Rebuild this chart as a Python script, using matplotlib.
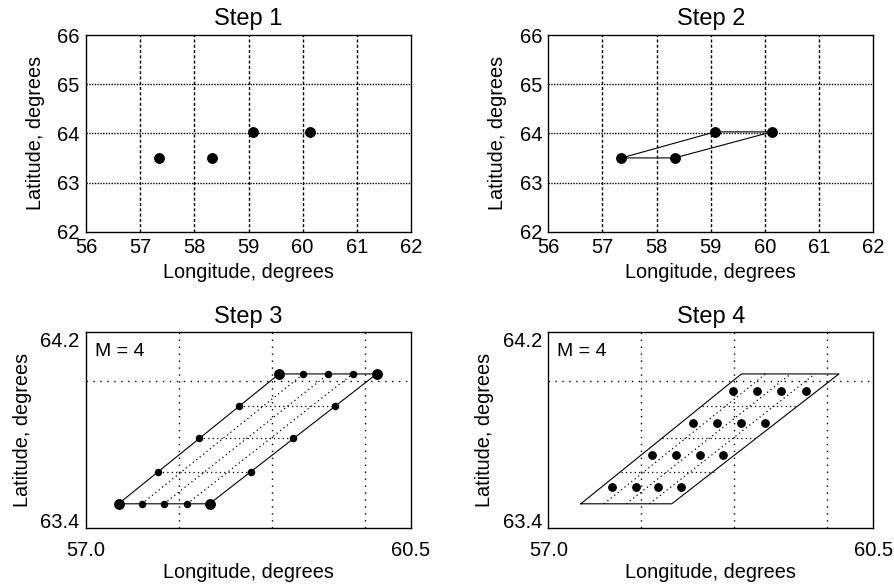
import matplotlib
matplotlib.use("Agg")
import matplotlib.pyplot as plt

plt.rcParams['font.family'] = ['Liberation Sans', 'DejaVu Sans']

# ---- data ----
lon_pts = [57.35, 58.33, 59.08, 60.13]
lat_pts = [63.50, 63.50, 64.03, 64.03]
poly_order = [0, 1, 3, 2, 0]

# Step 3 edge subdivision points (M = 4)
bottom_lon = [57.35, 57.60, 57.84, 58.09, 58.33]
top_lon = [59.08, 59.34, 59.61, 59.87, 60.13]
left_lon = [57.35, 57.78, 58.22, 58.65, 59.08]
right_lon = [58.33, 58.78, 59.23, 59.68, 60.13]
edge_lat = [63.50, 63.63, 63.77, 63.90, 64.03]

# Step 4 cell centres
center_lat = [63.57, 63.70, 63.83, 63.96]
center_lon = [
    [57.69, 57.94, 58.18, 58.43],
    [58.12, 58.38, 58.63, 58.88],
    [58.56, 58.82, 59.07, 59.33],
    [58.99, 59.25, 59.51, 59.77],
]

top_xticks = [56, 57, 58, 59, 60, 61, 62]
top_yticks = [62, 63, 64, 65, 66]
bot_xticks = [57.0, 60.5]
bot_yticks = [63.4, 64.2]
bot_grid_lon = [58, 59, 60]
bot_grid_lat = [64.0]
titles = ["Step 1", "Step 2", "Step 3", "Step 4"]

W, H = 895, 586
fig = plt.figure(figsize=(W / 100, H / 100), dpi=100)

def ax_at(l, t, r, b):
    return fig.add_axes([l / W, 1 - b / H, (r - l) / W, (b - t) / H])

ax1 = ax_at(86, 35, 411, 231.7)
ax2 = ax_at(548.3, 35, 873.3, 231.7)
ax3 = ax_at(86, 332.3, 411, 528.3)
ax4 = ax_at(548.3, 332.3, 873.3, 528.3)

TICK_FS = 14.5
LAB_FS = 14.3
TITLE_FS = 17

for ax, title in zip([ax1, ax2, ax3, ax4], titles):
    ax.set_title(title, fontsize=TITLE_FS, pad=7)
    ax.tick_params(length=0, labelsize=TICK_FS, pad=4.5)
    for s in ax.spines.values():
        s.set_linewidth(1.0)

# top row
for ax in (ax1, ax2):
    ax.set_xlabel("Longitude, degrees", fontsize=LAB_FS, labelpad=4)
    ax.set_ylabel("Latitude, degrees", fontsize=LAB_FS, labelpad=9)
    ax.set_xlim(56, 62)
    ax.set_ylim(62, 66)
    ax.set_xticks(top_xticks)
    ax.set_yticks(top_yticks)
    for x in top_xticks[1:-1]:
        ax.axvline(x, color='black', lw=1.0, ls=(0, (2.2, 1.6)), zorder=0)
    for y in top_yticks[1:-1]:
        ax.axhline(y, color='black', lw=1.0, ls=(0, (1, 1)), zorder=0)

ax1.plot(lon_pts, lat_pts, 'o', color='black', ms=6.8, zorder=3)

ax2.plot([lon_pts[i] for i in poly_order], [lat_pts[i] for i in poly_order],
         '-', color='black', lw=0.8, zorder=2)
ax2.plot(lon_pts, lat_pts, 'o', color='black', ms=6.8, zorder=3)

# bottom row
for ax in (ax3, ax4):
    ax.set_xlabel("Longitude, degrees", fontsize=LAB_FS, labelpad=2)
    ax.set_ylabel("Latitude, degrees", fontsize=LAB_FS, labelpad=6)
    ax.set_xlim(57.0, 60.5)
    ax.set_ylim(63.4, 64.2)
    ax.set_xticks(bot_xticks)
    ax.set_xticklabels([f"{v:.1f}" for v in bot_xticks])
    ax.set_yticks(bot_yticks)
    ylabs = ax.set_yticklabels([f"{v:.1f}" for v in bot_yticks])
    ylabs[0].set_verticalalignment('baseline')
    ylabs[1].set_verticalalignment('top')
    ax.tick_params(axis='x', pad=9.5)
    for x in bot_grid_lon:
        ax.axvline(x, color='black', lw=1.0, ls=(0, (1, 4)), zorder=0)
    for y in bot_grid_lat:
        ax.axhline(y, color='black', lw=1.0, ls=(0, (1, 4)), zorder=0)
    ax.text(0.028, 0.9, "M = 4", transform=ax.transAxes, fontsize=14,
            va='center', ha='left')
    # outline
    ax.plot([lon_pts[i] for i in poly_order], [lat_pts[i] for i in poly_order],
            '-', color='black', lw=0.8, zorder=2)
    # internal dotted grid
    for i in range(1, 4):
        ax.plot([bottom_lon[i], top_lon[i]], [edge_lat[0], edge_lat[-1]],
                color='black', lw=0.9, ls=(0, (1, 2.5)), zorder=1)
        ax.plot([left_lon[i], right_lon[i]], [edge_lat[i], edge_lat[i]],
                color='black', lw=0.9, ls=(0, (1, 2.5)), zorder=1)

# Step 3 points
small_lon = bottom_lon[1:4] + top_lon[1:4] + left_lon[1:4] + right_lon[1:4]
small_lat = [edge_lat[0]] * 3 + [edge_lat[-1]] * 3 + edge_lat[1:4] + edge_lat[1:4]
ax3.plot(small_lon, small_lat, 'o', color='black', ms=4.4, zorder=3)
ax3.plot(lon_pts, lat_pts, 'o', color='black', ms=6.8, zorder=3)

# Step 4 centres
for row_lon, lat in zip(center_lon, center_lat):
    ax4.plot(row_lon, [lat] * len(row_lon), 'o', color='black', ms=5.3,
             ls='none', zorder=3)

fig.savefig("out.png", dpi=100)
